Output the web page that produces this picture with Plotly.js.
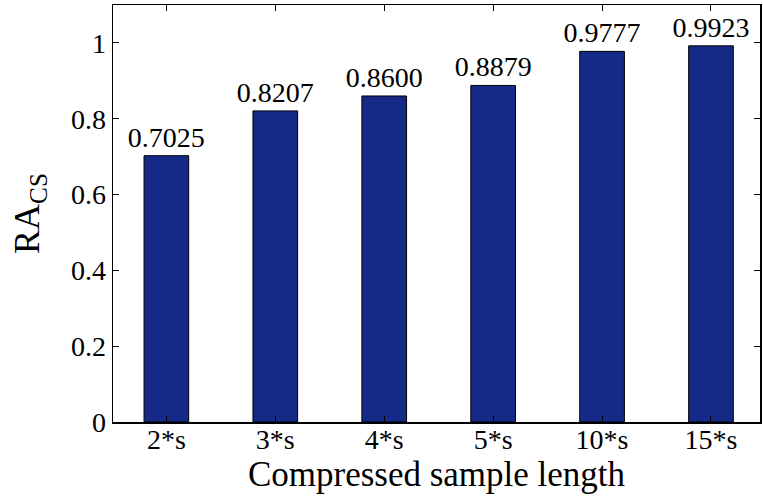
<!DOCTYPE html>
<html>
<head>
<meta charset="utf-8">
<script src="https://cdn.plot.ly/plotly-3.0.1.min.js"></script>
<style>html,body{margin:0;padding:0;background:#fff;}#chart{width:763px;height:497px;}</style>
</head>
<body>
<div id="chart"></div>
<script>
const categories = ["2*s", "3*s", "4*s", "5*s", "10*s", "15*s"];
const values = [0.7025, 0.8207, 0.8600, 0.8879, 0.9777, 0.9923];
const labels = ["0.7025", "0.8207", "0.8600", "0.8879", "0.9777", "0.9923"];

const FONT = "'Liberation Serif', 'Times New Roman', serif";

const trace = {
  type: "bar",
  x: categories,
  y: values,
  text: labels,
  textposition: "outside",
  constraintext: "none",
  cliponaxis: false,
  textfont: {family: FONT, size: 28, color: "#000"},
  width: 0.41,
  marker: {color: "rgb(21,41,135)", line: {color: "#000", width: 1}},
  hoverinfo: "none"
};

const layout = {
  width: 763, height: 497,
  margin: {l: 113, r: 3, t: 5, b: 75},
  paper_bgcolor: "#fff", plot_bgcolor: "#fff",
  showlegend: false,
  font: {family: FONT, size: 28, color: "#000"},
  xaxis: {
    type: "category",
    range: [-0.49, 5.45],
    showline: true, linecolor: "#000", linewidth: 1.5,
    mirror: "ticks", ticks: "inside", ticklen: 6, tickcolor: "#000",
    showgrid: false, zeroline: false,
    ticklabelstandoff: -8,
    tickfont: {family: FONT, size: 28, color: "#000"},
    title: {text: "Compressed sample length", font: {family: FONT, size: 35, color: "#000"}, standoff: 0}
  },
  yaxis: {
    range: [0, 1.1],
    dtick: 0.2, tick0: 0,
    showline: true, linecolor: "#000", linewidth: 1.5,
    mirror: "ticks", ticks: "inside", ticklen: 6, tickcolor: "#000",
    showgrid: false, zeroline: false,
    tickfont: {family: FONT, size: 28, color: "#000"},
    title: {text: "RA<sub>CS</sub>", font: {family: FONT, size: 36, color: "#000"}, standoff: 20}
  },
  bargap: 0
};

Plotly.newPlot("chart", [trace], layout, {displayModeBar: false, staticPlot: true});
</script>
</body>
</html>
